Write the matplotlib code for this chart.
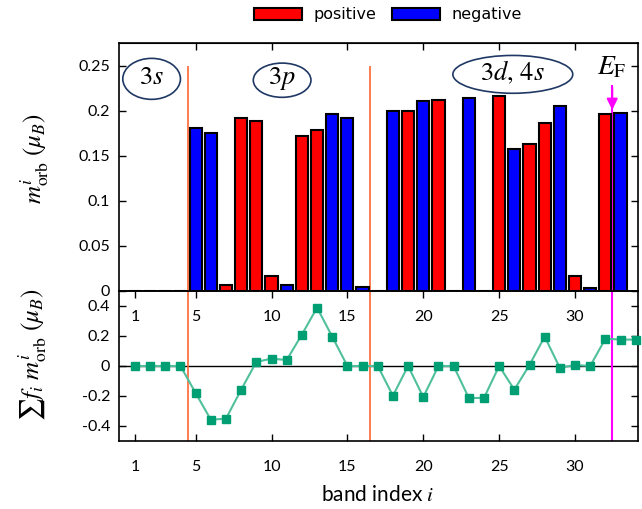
import matplotlib
matplotlib.use("Agg")
import matplotlib.pyplot as plt
from matplotlib.patches import Ellipse, Patch
import numpy as np

# ---------------- data ----------------
bands_top = list(range(1, 34))
m_orb = [0, 0, 0, 0, 0.181, 0.175, 0.007, 0.192, 0.189, 0.017, 0.007, 0.172, 0.179,
         0.197, 0.192, 0.004, 0, 0.200, 0.200, 0.211, 0.212, 0, 0.214, 0, 0.216,
         0.158, 0.163, 0.187, 0.205, 0.017, 0.003, 0.197, 0.198]
signs = ['+', '+', '+', '+', '-', '-', '+', '+', '+', '+', '-', '+', '+',
         '-', '-', '-', '+', '-', '+', '-', '+', '+', '-', '+', '+',
         '-', '+', '+', '-', '+', '-', '+', '-']

bands_bot = list(range(1, 35))
sum_m = [0, 0, 0, 0, -0.18, -0.358, -0.351, -0.158, 0.027, 0.049, 0.04, 0.209, 0.389,
         0.196, 0, 0, 0, -0.198, 0, -0.207, 0, 0, -0.213, -0.213, 0, -0.158,
         0.007, 0.196, -0.013, 0.007, 0, 0.182, 0.176, 0.176]

xticks = [1, 5, 10, 15, 20, 25, 30]
yticks_top = [0, 0.05, 0.1, 0.15, 0.2, 0.25]
ytick_labels_top = ['0', '0.05', '0.1', '0.15', '0.2', '0.25']
yticks_bot = [-0.4, -0.2, 0, 0.2, 0.4]
ytick_labels_bot = ['-0.4', '-0.2', '0', '0.2', '0.4']

shell_bounds = [4.5, 16.5]
e_fermi = 32.45
shell_labels = [r'$3s$', r'$3p$', r'$3d,\,4s$']
shell_label_x = [2.1, 10.7, 25.9]

# ---------------- style ----------------
plt.rcParams['mathtext.fontset'] = 'stix'
tick_font = 'Lato'
c_pos = '#ff0000'
c_neg = '#0000ff'
c_orange = '#ff6633'
c_mag = '#ff00ff'
c_green = '#009e73'
c_gline = '#50c09c'

fig = plt.figure(figsize=(6.42, 5.09), dpi=100)
ax2 = fig.add_axes([0.1858, 0.1336, 0.8080, 0.2947])
ax = fig.add_axes([0.1858, 0.4283, 0.8080, 0.4872])
ax.patch.set_alpha(0)

# ---------------- top panel ----------------
colors = [c_pos if s == '+' else c_neg for s in signs]
ax.vlines(e_fermi, 0, 0.229, color=c_mag, lw=1.5, zorder=1)
ax.bar(bands_top, m_orb, width=0.8, color=colors, edgecolor='black', linewidth=1.5, zorder=2)
ax.annotate('', xy=(e_fermi, 0.198), xytext=(e_fermi, 0.229),
            arrowprops=dict(arrowstyle='-|>', color=c_mag, lw=1.5, mutation_scale=16),
            zorder=4)
ax.text(e_fermi, 0.2497, r'$E_{\rm F}$', ha='center', va='center', fontsize=20)
for b in shell_bounds:
    ax.vlines(b, 0, 0.25, color=c_orange, lw=1.2, zorder=1)

ell_w = [3.8, 3.8, 7.9]
ell_h = [0.0455, 0.038, 0.042]
ell_y = [0.2355, 0.234, 0.2405]
for lbl, xc, w, h, yc in zip(shell_labels, shell_label_x, ell_w, ell_h, ell_y):
    ax.add_patch(Ellipse((xc, yc), w, h, facecolor='white', edgecolor='#1f3864', lw=1.2, zorder=5))
    ax.text(xc, yc + 0.002, lbl, ha='center', va='center', fontsize=19, zorder=6)

ax.set_xlim(-0.03, 34.15)
ax.set_ylim(0, 0.2753)
ax.set_xticks(xticks)
ax.set_xticklabels([str(t) for t in xticks], fontfamily=tick_font, fontsize=11.5)
ax.set_yticks(yticks_top)
ax.set_yticklabels(ytick_labels_top, fontfamily=tick_font, fontsize=11.5)
ax.tick_params(axis='x', direction='out', length=5, pad=8.5, width=1)
ax.tick_params(axis='y', direction='in', length=5, pad=6.5, width=1, right=True)
sec = ax.secondary_xaxis('top')
sec.set_xticks(xticks[1:])
sec.tick_params(direction='in', length=5, labeltop=False, width=1)
for s in ax.spines.values():
    s.set_linewidth(1.2)

# ---------------- bottom panel ----------------
ax2.axhline(0, color='black', lw=1, zorder=1)
for b in shell_bounds:
    ax2.axvline(b, color=c_orange, lw=1.2, zorder=1)
ax2.axvline(e_fermi, color=c_mag, lw=1.5, zorder=1)
ax2.plot(bands_bot, sum_m, color=c_gline, lw=1.5, zorder=2, clip_on=False)
ax2.plot(bands_bot, sum_m, ls='none', marker='s', ms=6, color=c_green, zorder=3, clip_on=False)
ax2.set_xlim(-0.03, 34.15)
ax2.set_ylim(-0.5, 0.5)
ax2.set_xticks(xticks)
ax2.set_xticklabels([str(t) for t in xticks], fontfamily=tick_font, fontsize=11.5)
ax2.set_yticks(yticks_bot)
ax2.set_yticklabels(ytick_labels_bot, fontfamily=tick_font, fontsize=11.5)
ax2.tick_params(axis='x', direction='in', length=5, pad=14, width=1)
ax2.tick_params(axis='y', direction='in', length=5, pad=6.5, width=1, right=True)
for s in ax2.spines.values():
    s.set_linewidth(1.2)

# ---------------- labels ----------------
fig.text(35 / 642, 1 - 159 / 509, r'$m^{i}_{\rm orb}\ (\mu_B)$', rotation=90,
         ha='center', va='center', fontsize=18)
fig.text(33 / 642, 1 - 355 / 509, r'$\sum f_i\ m^{i}_{\rm orb}\ (\mu_B)$', rotation=90,
         ha='center', va='center', fontsize=18)
fig.text(378 / 642, 1 - 495 / 509, r'band index $i$', ha='center', va='center',
         fontsize=15, fontfamily=tick_font)

handles = [Patch(facecolor=c_pos, edgecolor='black', lw=1.5, label='positive'),
           Patch(facecolor=c_neg, edgecolor='black', lw=1.5, label='negative')]
fig.legend(handles=handles, loc='center', bbox_to_anchor=(388 / 642, 1 - 15 / 509), ncol=2,
           frameon=False, fontsize=11.5, handlelength=3.0, handleheight=0.75,
           handletextpad=0.7, columnspacing=1.0, borderpad=0)

fig.savefig('out.png', dpi=100)
